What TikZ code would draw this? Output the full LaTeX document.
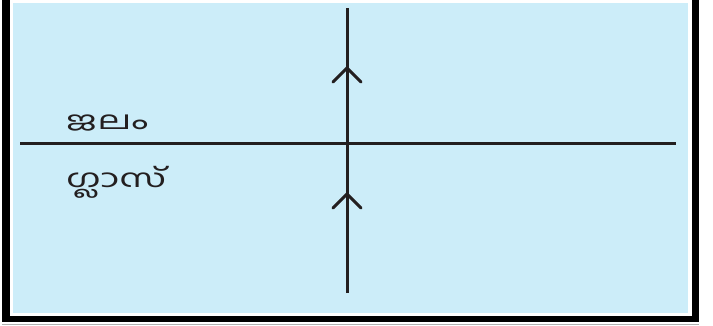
\documentclass[tikz,border=0pt]{standalone}
\usepackage{fontspec}
\newfontfamily\malfont[Script=Malayalam]{Hind Kochi}
\definecolor{bgblue}{RGB}{204,237,249}
\definecolor{ink}{RGB}{35,31,32}
\newcommand{\widelbl}[1]{\scalebox{1.55}[1]{#1}}
\tikzset{
  ray/.style={ink, line width=3pt},
  chev/.style={ink, line width=3pt, line cap=round, line join=miter},
  lbl/.style={ink, font=\malfont\fontsize{25}{28}\selectfont, anchor=base west, inner sep=0pt},
  frame/.style={fill=black, draw=none}
}
\begin{document}
\begin{tikzpicture}[x=1pt,y=-1pt]
\useasboundingbox (0,0) rectangle (713,326);
\fill[white] (0,0) rectangle (713,326);
% outer frame
\fill[frame] (2,0) rectangle (10,322);
\fill[frame] (692,0) rectangle (699,322);
\fill[frame] (2,316) rectangle (699,322);
\draw[gray!60, line width=0.6pt] (2,324) -- (699,324);
% blue panel
\fill[bgblue] (13,3) rectangle (688,313);
% coordinates
\coordinate (hl) at (20,144);
\coordinate (hr) at (676,144);
\coordinate (vb) at (347,293);
\coordinate (vt) at (347,8);
\coordinate (t1) at (347,68);
\coordinate (t2) at (347,194);
% lines
\draw[ray] (hl) -- (hr);
\draw[ray] (vb) -- (vt);
% chevrons
\draw[chev] ([shift={(-14,14)}]t1) -- (t1) -- ([shift={(14,14)}]t1);
\draw[chev] ([shift={(-14,14)}]t2) -- (t2) -- ([shift={(14,14)}]t2);
% labels
\node[lbl] (water) at (66,130) {\widelbl{ജലം}};
\node[lbl] (glass) at (66,188) {\widelbl{ഗ്ലാസ്}};
\end{tikzpicture}
\end{document}
